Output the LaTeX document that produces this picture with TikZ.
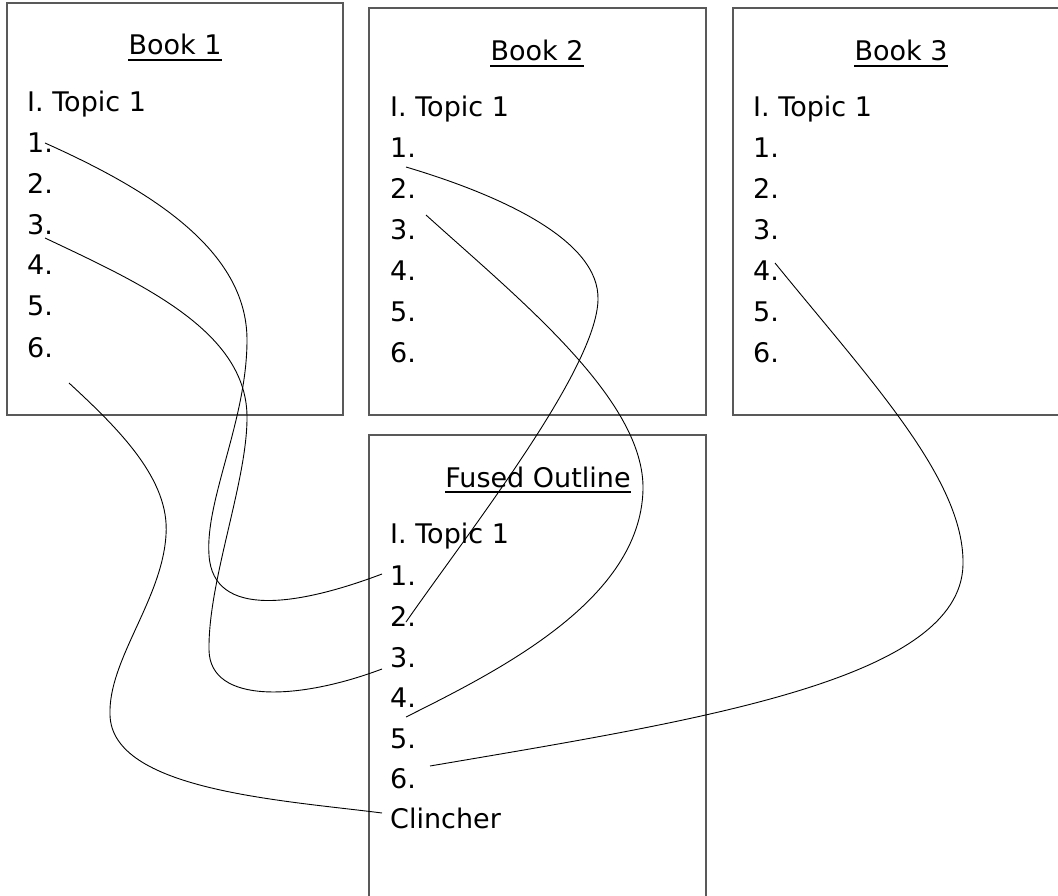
\documentclass[tikz,border=0pt]{standalone}
\usepackage{fontspec}
\setmainfont{DejaVu Sans}
\begin{document}
\begin{tikzpicture}[x=1pt,y=-1pt,
  box/.style={draw=black!65, line width=1.2pt},
  item/.style={anchor=base west, inner sep=0pt, font=\fontsize{27}{32}\selectfont},
  title/.style={anchor=base, inner sep=0pt, font=\fontsize{27}{32}\selectfont},
  ul/.style={line width=2.8pt},
  link/.style={draw=black, line width=0.9pt}]
\useasboundingbox (0,0) rectangle (1058,896);
% boxes
\draw[box] (7,3) rectangle (343,415);
\draw[box] (369,8) rectangle (706,415);
\draw[box] (733,8) rectangle (1068,415);
\draw[box] (369,435) rectangle (706,906);
% Book 1
\node[title] (t1) at (175,55) {Book 1};
\draw[ul] ([yshift=-5pt]t1.base west) -- ([yshift=-5pt]t1.base east);
\node[item] (b1h) at (27,112) {I. Topic 1};
\foreach \i/\y in {1/153,2/194,3/235,4/275,5/316,6/357}
  \node[item] (b1n\i) at (27,\y) {\i.};
% Book 2
\node[title] (t2) at (537,61) {Book 2};
\draw[ul] ([yshift=-5pt]t2.base west) -- ([yshift=-5pt]t2.base east);
\node[item] (b2h) at (390,117) {I. Topic 1};
\foreach \i/\y in {1/158,2/199,3/240,4/280,5/321,6/362}
  \node[item] (b2n\i) at (390,\y) {\i.};
% Book 3
\node[title] (t3) at (901,61) {Book 3};
\draw[ul] ([yshift=-5pt]t3.base west) -- ([yshift=-5pt]t3.base east);
\node[item] (b3h) at (753,117) {I. Topic 1};
\foreach \i/\y in {1/158,2/199,3/240,4/280,5/321,6/362}
  \node[item] (b3n\i) at (753,\y) {\i.};
% Fused outline
\node[title] (tf) at (538,487) {Fused Outline};
\draw[ul] ([yshift=-5pt]tf.base west) -- ([yshift=-5pt]tf.base east);
\node[item] (fh) at (390,543) {I. Topic 1};
\foreach \i/\y in {1/585,2/626,3/667,4/707,5/748,6/788}
  \node[item] (fn\i) at (390,\y) {\i.};
\node[item] (fc) at (390,828) {Clincher};
% connector end points
\coordinate (a0) at (45,143);  \coordinate (a1) at (382,574);
\coordinate (b0) at (45,238);  \coordinate (b1) at (382,669);
\coordinate (c0) at (69,383);  \coordinate (c1) at (382,813);
\coordinate (d0) at (406,167); \coordinate (d1) at (406,622);
\coordinate (e0) at (426,215); \coordinate (e1) at (406,717);
\coordinate (f0) at (775,263); \coordinate (f1) at (430,766);
% connectors
\draw[link] (a0) .. controls (150,190) and (247,250) .. (247,340)
                 .. controls (247,420) and (205,500) .. (209,555)
                 .. controls (213,620) and (300,605) .. (a1);
\draw[link] (b0) .. controls (140,283) and (245,330) .. (247,415)
                 .. controls (248,480) and (208,580) .. (209,650)
                 .. controls (210,705) and (300,700) .. (b1);
\draw[link] (c0) .. controls (120,430) and (170,480) .. (166,535)
                 .. controls (162,600) and (108,660) .. (110,715)
                 .. controls (112,790) and (280,800) .. (c1);
\draw[link] (d0) .. controls (500,195) and (600,240) .. (598,300)
                 .. controls (596,370) and (470,530) .. (d1);
\draw[link] (e0) .. controls (520,300) and (645,400) .. (643,490)
                 .. controls (640,600) and (500,670) .. (e1);
\draw[link] (f0) .. controls (870,380) and (965,480) .. (963,565)
                 .. controls (960,680) and (700,720) .. (f1);
\end{tikzpicture}
\end{document}
